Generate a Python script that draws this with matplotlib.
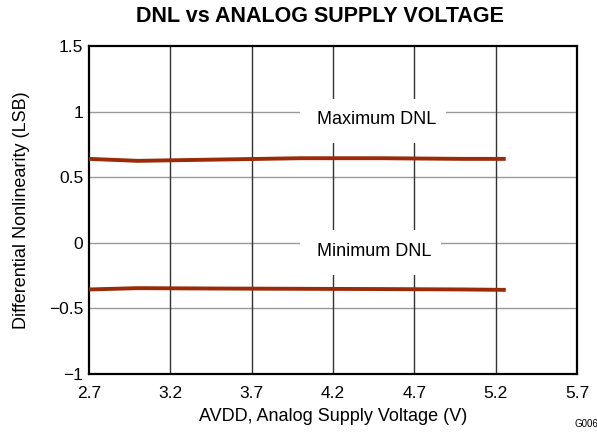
import matplotlib
matplotlib.use("Agg")
import matplotlib.pyplot as plt
from matplotlib.patches import Rectangle

plt.rcParams['font.family'] = ['Liberation Sans', 'DejaVu Sans']

avdd = [2.7, 3.0, 3.5, 4.0, 4.5, 5.0, 5.25]
dnl_max = [0.64, 0.625, 0.635, 0.645, 0.645, 0.64, 0.64]
dnl_min = [-0.355, -0.345, -0.348, -0.350, -0.352, -0.355, -0.358]
xticks = [2.7, 3.2, 3.7, 4.2, 4.7, 5.2, 5.7]
yticks = [-1, -0.5, 0, 0.5, 1, 1.5]
ytick_labels = ['\u22121', '\u22120.5', '0', '0.5', '1', '1.5']

fig = plt.figure(figsize=(5.97, 4.32), dpi=100)
ax = fig.add_axes([0.149, 0.134, 0.8175, 0.7595])

line_color = '#9a2a08'
ax.plot(avdd, dnl_max, color=line_color, linewidth=2.8, zorder=3)
ax.plot(avdd, dnl_min, color=line_color, linewidth=2.8, zorder=3)

ax.set_xlim(2.7, 5.7)
ax.set_ylim(-1, 1.5)
ax.set_xticks(xticks)
ax.set_xticklabels([str(t) for t in xticks])
ax.set_yticks(yticks)
ax.set_yticklabels(ytick_labels)

for y in yticks[1:-1]:
    ax.axhline(y, color='#999999', linewidth=1.0, zorder=1)
for x in xticks[1:-1]:
    ax.axvline(x, color='#333333', linewidth=1.0, zorder=1)

for s in ax.spines.values():
    s.set_linewidth(1.6)
    s.set_color('black')
ax.tick_params(length=0, labelsize=12.5)
ax.tick_params(axis='x', pad=8.5)
ax.tick_params(axis='y', pad=4)

# white boxes behind the labels, hiding the grid
ax.add_patch(Rectangle((3.997, 0.762), 0.897, 0.336, facecolor='white',
                       edgecolor='none', zorder=2))
ax.add_patch(Rectangle((3.997, -0.244), 0.867, 0.343, facecolor='white',
                       edgecolor='none', zorder=2))
ax.text(4.10, 0.94, 'Maximum DNL', ha='left', va='center', fontsize=13, zorder=2.5)
ax.text(4.10, -0.069, 'Minimum DNL', ha='left', va='center', fontsize=13, zorder=2.5)

ax.set_xlabel('AVDD, Analog Supply Voltage (V)', fontsize=13, labelpad=5)
ax.set_ylabel('Differential Nonlinearity (LSB)', fontsize=13, labelpad=14)
fig.suptitle('DNL vs ANALOG SUPPLY VOLTAGE', fontsize=15.5, fontweight='bold',
             x=0.536, y=0.985)
fig.text(0.962, 0.012, 'G006', fontsize=7)

fig.savefig('out.png', dpi=100)
